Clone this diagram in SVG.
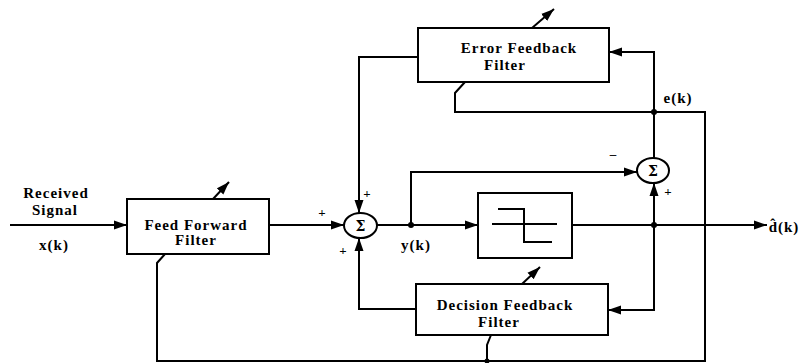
<svg xmlns="http://www.w3.org/2000/svg" width="799" height="363" viewBox="0 0 799 363">
<style>
.bx{fill:#fff;stroke:#000;stroke-width:2}
.ln{fill:none;stroke:#000;stroke-width:2}
.ar{fill:none;stroke:#000;stroke-width:2;marker-end:url(#ah)}
.t{font-family:"Liberation Serif","Times New Roman",serif;font-weight:bold;font-size:15px;letter-spacing:1px;fill:#000;text-anchor:middle}
.s{font-family:"Liberation Serif","Times New Roman",serif;font-weight:bold;font-size:13px;fill:#000;text-anchor:middle}
.g{font-family:"DejaVu Serif","Liberation Serif",serif;font-weight:bold;font-size:14px;fill:#000;text-anchor:middle}
.dot{fill:#000}
</style>
<defs>
<marker id="ah" markerUnits="userSpaceOnUse" markerWidth="14" markerHeight="10" refX="13" refY="5" orient="auto">
<path d="M0,0.5 L13,5 L0,9.5 z" fill="#000"/>
</marker>
</defs>
<rect width="799" height="363" fill="#fff"/>
<g id="connectors">
<line class="ar" x1="10" y1="225" x2="127" y2="225"/>
<line class="ar" x1="269" y1="225" x2="344" y2="225"/>
<line class="ar" x1="377" y1="225" x2="478" y2="225"/>
<polyline class="ar" points="411,225 411,172 637,172"/>
<line class="ar" x1="572" y1="225" x2="767" y2="225"/>
<line class="ar" x1="654" y1="225" x2="654" y2="183"/>
<polyline class="ar" points="654,158 654,52 609,52"/>
<polyline class="ar" points="418,57 359,57 359,213"/>
<polyline class="ar" points="654,225 654,310 608,310"/>
<polyline class="ar" points="416,309 359,309 359,238"/>
<polyline class="ln" points="465,82 455,93 455,112 705,112 705,361 157,361 157,263 165,254"/>
<polyline class="ln" points="491,335 487,345 487,361"/>
<line class="ar" x1="213" y1="199" x2="229" y2="182"/>
<line class="ar" x1="532" y1="28" x2="554" y2="9"/>
<line class="ar" x1="522" y1="284" x2="540" y2="267"/>
<circle class="dot" cx="411" cy="225" r="3"/>
<circle class="dot" cx="654" cy="225" r="3"/>
<circle class="dot" cx="654" cy="112" r="3"/>
<circle class="dot" cx="487" cy="361" r="2.5"/>
</g>
<g id="input-label">
<text class="t" x="56" y="198">Received</text>
<text class="t" x="55" y="215">Signal</text>
<text class="t" x="54" y="250">x(k)</text>
</g>
<g id="feed-forward-filter">
<rect class="bx" x="127" y="199" width="142" height="55"/>
<text class="t" x="196" y="230">Feed Forward</text>
<text class="t" x="196" y="245">Filter</text>
</g>
<g id="sum1">
<ellipse class="bx" cx="360.5" cy="225.5" rx="16.5" ry="12.5"/>
<text class="g" x="360.5" y="231">Σ</text>
<text class="s" x="322" y="217">+</text>
<text class="s" x="367" y="198">+</text>
<text class="s" x="343" y="255">+</text>
</g>
<g id="error-feedback-filter">
<rect class="bx" x="418" y="28" width="191" height="54"/>
<text class="t" x="519" y="53">Error Feedback</text>
<text class="t" x="505" y="70">Filter</text>
</g>
<g id="slicer">
<rect class="bx" x="478" y="193" width="94" height="65"/>
<polyline class="ln" points="498,209 524,209 524,242 552,242"/>
<line class="ln" x1="492" y1="224" x2="557" y2="224"/>
</g>
<g id="sum2">
<ellipse class="bx" cx="653" cy="170.5" rx="16" ry="12.5"/>
<text class="g" x="653" y="176">Σ</text>
<text class="s" x="613" y="158">–</text>
<text class="s" x="668" y="196">+</text>
</g>
<g id="decision-feedback-filter">
<rect class="bx" x="416" y="284" width="192" height="51"/>
<text class="t" x="505" y="310">Decision Feedback</text>
<text class="t" x="499" y="327">Filter</text>
</g>
<g id="labels">
<text class="t" x="416" y="250">y(k)</text>
<text class="t" x="678" y="103">e(k)</text>
<text class="t" x="784" y="232">d̂(k)</text>
</g>
</svg>
